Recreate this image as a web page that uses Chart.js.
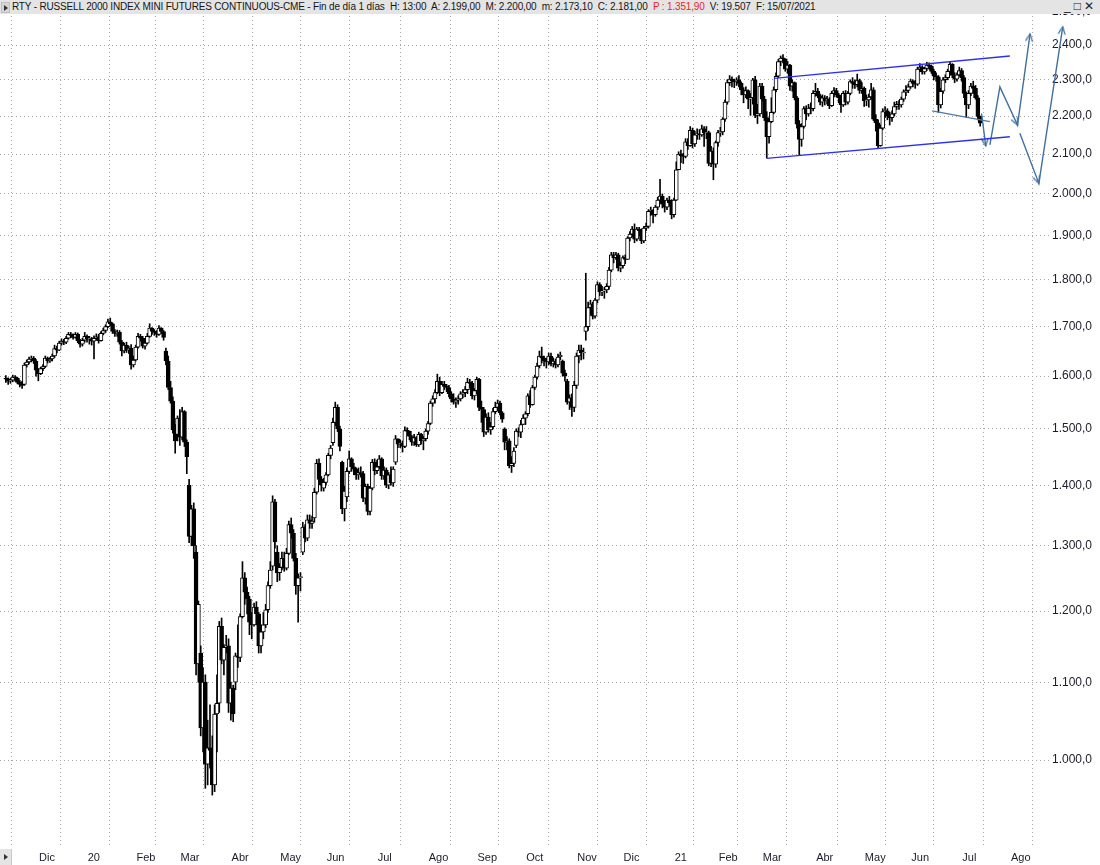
<!DOCTYPE html>
<html>
<head>
<meta charset="utf-8">
<script src="https://cdn.jsdelivr.net/npm/chart.js@4.4.0/dist/chart.umd.min.js"></script>
<style>
  html, body { margin: 0; padding: 0; background: #fff; }
  #wrap { position: relative; width: 1100px; height: 865px; overflow: hidden; font-family: "Liberation Sans", Arial, sans-serif; }
  #chart { position: absolute; left: 0; top: 0; }
  #bar { position: absolute; left: 0; top: 0; width: 1100px; height: 14px; background: #e4e4e4; font-size: 10px; line-height: 14px; color: #151515; white-space: pre; letter-spacing: -0.17px; }
  #bar .ico { position: absolute; left: 1px; top: 2px; width: 7px; height: 9px; background: #d6d6d6; border: 1px solid #c0c0c0; }
  #bar .ico:after { content: ""; position: absolute; left: 2px; top: 2px; border-left: 4px solid #333; border-top: 3px solid transparent; border-bottom: 3px solid transparent; }
  #bar .txt { position: absolute; left: 12px; top: 0; }
  #bar .red { color: #e8262a; }
  #bar .btns { position: absolute; right: 3px; top: -1px; font-size: 12px; letter-spacing: 3px; color: #222; }
  #corner { position: absolute; left: 0; top: 849px; width: 11px; height: 16px; background: #e4e4e4; border-right: 1px solid #c8c8c8; }
  #corner:after { content: ""; position: absolute; left: 4px; top: 5px; border-left: 4px solid #333; border-top: 3px solid transparent; border-bottom: 3px solid transparent; }
</style>
</head>
<body>
<div id="wrap">
  <canvas id="chart" width="1100" height="865"></canvas>
  <div id="bar"><span class="ico"></span><span class="txt">RTY - RUSSELL 2000 INDEX MINI FUTURES CONTINUOUS-CME - Fin de día 1 días  H: 13:00  A: 2.199,00  M: 2.200,00  m: 2.173,10  C: 2.181,00  <span class="red">P : 1.351,90</span>  V: 19.507  F: 15/07/2021</span><span class="btns">_□✕</span></div>
  <div id="corner"></div>
</div>
<script>
// daily bars, one line per month (Nov 2019 .. Jul 2021)
const opens = [
  1596,1594,1590,1592,1598,1596,1588,1584,1584,1622,1628,1634,1636,
  1630,1612,1605,1615,1619,1636,1630,1634,1640,1655,1652,1666,1670,1668,1676,1684,1682,1678,1684,1671,1664,
  1672,1680,1674,1675,1670,1676,1679,1671,1686,1692,1700,1710,1706,1690,1686,1688,1668,1650,1662,1652,1656,
  1622,1632,1658,1680,1676,1660,1666,1680,1697,1690,1688,1684,1697,1690,1650,1630,1578,1552,1498,
  1490,1520,1485,1532,1476,1400,1315,1360,1290,1125,1140,1040,1100,995,1015,1012,970,1058,1072,1178,1130,1148,
  1150,1072,1092,1100,1136,1134,1192,1250,1228,1218,1184,1180,1206,1196,1150,1170,1180,1202,1238,1268,1372,
  1290,1258,1266,1280,1265,1288,1334,1320,1280,1238,1250,1290,1330,1312,1342,1336,1345,1388,1438,1410,
  1395,1405,1418,1452,1475,1512,1540,1500,1440,1360,1380,1424,1446,1432,1428,1418,1422,1420,1378,1398,1356,1395,
  1440,1425,1432,1446,1416,1426,1400,1418,1404,1440,1482,1472,1474,1468,1497,1496,1486,1476,1484,1471,1490,1478,
  1482,1496,1510,1548,1556,1568,1590,1568,1584,1580,1578,1566,1556,1550,1554,1556,1566,1568,1574,1588,1586,
  1562,1572,1594,1540,1536,1494,1522,1498,1504,1532,1540,1548,1530,1500,1476,1478,1434,1438,1470,1496,1494,
  1508,1520,1528,1562,1545,1578,1598,1620,1640,1636,1630,1628,1640,1624,1630,1622,1638,1630,1606,1590,1550,1558,
  1540,1582,1640,1652,1646,1690,1700,1740,1748,1722,1756,1790,1774,1776,1778,1786,1822,1856,1850,1856,
  1826,1832,1850,1846,1895,1904,1916,1892,1916,1912,1888,1918,1922,1958,1960,1950,1968,1985,1995,1975,1968,1985,
  1978,1950,1985,2060,2100,2096,2094,2132,2122,2162,2126,2150,2152,2150,2166,2155,2156,2076,2108,
  2074,2130,2156,2158,2192,2238,2292,2302,2296,2294,2300,2290,2272,2258,2270,2246,2250,2300,2202,
  2206,2282,2246,2196,2145,2185,2210,2272,2310,2352,2362,2360,2330,2342,2282,2292,2250,2178,2138,2172,2220,2206,2222,
  2220,2262,2268,2255,2238,2250,2242,2246,2228,2262,2270,2258,2250,2230,2262,2238,2262,2295,2290,2286,2298,
  2270,2276,2242,2244,2252,2272,2192,2182,2122,2168,2212,2214,2200,2196,2206,2226,2232,2230,2246,2266,
  2270,2280,2296,2290,2288,2330,2336,2322,2332,2342,2338,2324,2310,2308,2230,2268,2300,2306,2324,2344,2312,2302,
  2314,2326,2306,2262,2230,2262,2282,2276,2250,2199
];
const highs = [
  1601,1597,1596,1602,1601,1598,1592,1590,1626,1632,1638,1640,1639,
  1633,1615,1618,1623,1640,1638,1637,1644,1662,1660,1670,1675,1674,1680,1688,1688,1685,1688,1687,1674,1676,
  1688,1683,1680,1678,1681,1685,1684,1690,1697,1704,1716,1718,1708,1694,1693,1692,1672,1666,1668,1660,1663,
  1640,1662,1686,1684,1680,1670,1686,1706,1698,1694,1692,1702,1698,1692,1656,1640,1590,1560,1508,
  1524,1536,1540,1534,1480,1410,1366,1370,1300,1215,1150,1120,1110,1050,1070,1030,1070,1110,1185,1190,1152,1165,
  1160,1100,1096,1140,1180,1196,1275,1258,1236,1222,1198,1212,1214,1198,1180,1198,1210,1244,1275,1382,1376,
  1300,1272,1290,1290,1296,1340,1345,1326,1288,1256,1258,1338,1334,1350,1350,1348,1395,1445,1446,1415,
  1412,1422,1456,1470,1520,1550,1545,1505,1442,1398,1430,1460,1448,1438,1430,1430,1432,1424,1402,1402,1398,1445,
  1446,1444,1452,1448,1432,1430,1422,1432,1432,1488,1482,1480,1478,1504,1502,1496,1488,1490,1486,1494,1492,1486,
  1500,1514,1552,1562,1574,1604,1598,1590,1590,1584,1582,1570,1566,1558,1562,1570,1574,1580,1596,1594,1590,
  1576,1598,1596,1552,1540,1528,1530,1512,1538,1550,1554,1552,1532,1502,1486,1482,1450,1466,1500,1502,1516,
  1526,1532,1566,1572,1582,1602,1626,1650,1658,1640,1636,1646,1646,1636,1634,1644,1648,1632,1612,1594,1564,1566,
  1590,1646,1662,1662,1656,1815,1752,1756,1752,1760,1796,1794,1786,1784,1792,1828,1862,1862,1862,1860,
  1840,1854,1856,1898,1910,1922,1928,1920,1920,1916,1922,1930,1962,1968,1962,1972,1992,2036,2000,1984,1990,1994,
  1986,1990,2080,2106,2110,2102,2140,2140,2172,2168,2160,2166,2164,2176,2172,2172,2160,2120,2116,
  2134,2162,2170,2196,2244,2300,2312,2308,2302,2306,2312,2294,2278,2280,2272,2262,2304,2310,2232,
  2290,2290,2254,2212,2192,2250,2280,2320,2358,2368,2372,2360,2352,2344,2300,2294,2254,2188,2180,2226,2228,2232,2236,
  2270,2290,2276,2260,2258,2256,2254,2250,2268,2278,2276,2262,2254,2268,2270,2268,2300,2306,2300,2316,2302,
  2292,2280,2258,2260,2290,2278,2204,2190,2176,2220,2226,2220,2210,2214,2238,2240,2242,2252,2272,2284,
  2288,2302,2300,2298,2336,2346,2340,2336,2350,2348,2342,2330,2320,2312,2276,2306,2314,2330,2352,2346,2320,2320,
  2336,2332,2312,2266,2270,2290,2296,2284,2256,2200
];
const lows = [
  1588,1584,1586,1589,1590,1585,1579,1576,1582,1618,1624,1628,1625,
  1600,1591,1603,1611,1617,1626,1627,1630,1637,1646,1651,1662,1663,1665,1674,1677,1674,1676,1667,1658,1660,
  1668,1668,1664,1662,1634,1672,1666,1670,1683,1688,1698,1702,1686,1680,1680,1664,1640,1646,1647,1645,1614,
  1618,1630,1656,1670,1656,1654,1664,1678,1684,1682,1678,1682,1686,1672,1622,1574,1548,1492,1456,
  1478,1470,1480,1468,1420,1305,1300,1280,1110,1100,1030,1010,966,970,990,958,962,1010,1060,1125,1110,1140,
  1060,1050,1048,1090,1120,1128,1190,1210,1196,1166,1160,1178,1180,1140,1140,1160,1176,1198,1234,1262,1296,
  1244,1246,1262,1260,1262,1286,1312,1276,1225,1184,1230,1286,1306,1308,1328,1328,1338,1385,1402,1390,
  1390,1400,1416,1446,1470,1506,1495,1460,1352,1340,1372,1420,1424,1418,1410,1410,1414,1372,1368,1350,1350,1392,
  1418,1420,1428,1410,1410,1396,1394,1400,1398,1436,1466,1466,1458,1466,1488,1480,1470,1470,1468,1468,1472,1462,
  1478,1490,1508,1542,1548,1566,1562,1566,1574,1570,1560,1550,1546,1540,1546,1552,1558,1560,1566,1578,1556,
  1554,1566,1534,1512,1486,1490,1494,1490,1500,1528,1534,1526,1512,1462,1462,1430,1422,1432,1466,1486,1484,
  1508,1508,1524,1540,1544,1574,1594,1616,1626,1620,1616,1622,1620,1618,1616,1618,1632,1600,1590,1546,1536,1523,
  1532,1576,1626,1632,1634,1672,1692,1724,1716,1718,1750,1766,1766,1760,1772,1780,1818,1838,1846,1820,
  1818,1826,1836,1846,1888,1898,1884,1888,1900,1882,1884,1912,1918,1948,1930,1946,1962,1980,1966,1956,1962,1970,
  1940,1944,1984,2060,2078,2076,2090,2112,2120,2116,2120,2138,2138,2146,2120,2140,2070,2068,2035,
  2066,2120,2146,2150,2186,2232,2284,2280,2278,2284,2280,2258,2236,2250,2220,2202,2232,2196,2180,
  2200,2240,2188,2090,2128,2182,2206,2266,2306,2340,2348,2324,2318,2270,2268,2244,2168,2098,2120,2168,2190,2200,2206,
  2214,2254,2250,2230,2226,2230,2232,2220,2226,2252,2252,2236,2210,2226,2230,2232,2258,2276,2276,2280,2262,
  2262,2226,2228,2224,2246,2188,2160,2114,2120,2164,2196,2190,2176,2186,2200,2218,2218,2224,2240,2256,
  2264,2276,2280,2276,2284,2324,2316,2316,2326,2330,2318,2300,2296,2210,2222,2262,2292,2300,2320,2306,2292,2296,
  2310,2296,2250,2196,2220,2256,2262,2246,2190,2173.1
];
const closes = [
  1594,1590,1592,1598,1596,1588,1584,1582,1622,1628,1634,1636,1630,
  1612,1605,1615,1619,1636,1630,1634,1640,1655,1652,1666,1670,1668,1676,1684,1682,1678,1684,1671,1664,1672,
  1680,1674,1675,1670,1676,1679,1671,1686,1692,1700,1710,1706,1690,1686,1688,1668,1650,1662,1652,1656,1622,
  1632,1658,1680,1676,1660,1666,1680,1697,1690,1688,1684,1697,1690,1678,1630,1578,1552,1498,1478,
  1520,1485,1532,1476,1450,1315,1360,1300,1125,1210,1040,1100,995,1015,1012,970,1058,1072,1178,1130,1148,1150,
  1072,1092,1058,1136,1134,1192,1250,1228,1218,1184,1180,1206,1196,1150,1170,1180,1202,1238,1262,1372,1306,
  1258,1266,1280,1265,1288,1334,1320,1280,1238,1250,1252,1330,1312,1342,1336,1340,1388,1438,1410,1400,
  1405,1418,1452,1465,1512,1540,1500,1468,1360,1390,1424,1446,1432,1428,1418,1422,1420,1378,1398,1356,1395,1440,
  1425,1432,1446,1416,1426,1400,1418,1404,1428,1482,1472,1474,1468,1497,1496,1486,1476,1484,1471,1490,1478,1482,
  1496,1510,1548,1556,1568,1590,1568,1584,1580,1578,1566,1556,1550,1554,1556,1566,1568,1574,1588,1586,1562,
  1572,1594,1540,1536,1494,1522,1498,1504,1532,1540,1548,1530,1518,1476,1478,1434,1438,1460,1496,1494,1508,
  1520,1528,1562,1545,1578,1598,1620,1640,1636,1630,1628,1640,1624,1630,1622,1638,1642,1606,1600,1550,1558,1540,
  1582,1640,1652,1646,1648,1700,1740,1748,1722,1756,1790,1774,1776,1778,1786,1822,1856,1850,1856,1826,
  1832,1850,1846,1895,1904,1916,1892,1916,1912,1888,1918,1922,1958,1960,1950,1968,1985,1995,1975,1968,1985,1978,
  1950,1985,2060,2100,2096,2094,2132,2122,2162,2126,2150,2152,2150,2166,2155,2156,2076,2108,2074,
  2130,2156,2158,2192,2238,2292,2302,2296,2294,2300,2290,2272,2258,2270,2246,2250,2300,2202,2206,
  2282,2246,2196,2145,2185,2210,2272,2310,2352,2362,2360,2330,2342,2282,2292,2250,2178,2138,2172,2220,2206,2222,2220,
  2262,2268,2255,2238,2250,2242,2246,2228,2262,2270,2258,2250,2230,2262,2238,2262,2295,2290,2286,2298,2270,
  2276,2242,2244,2252,2272,2192,2182,2122,2168,2212,2214,2200,2196,2206,2226,2232,2230,2246,2266,2270,
  2280,2296,2290,2288,2330,2336,2322,2332,2342,2338,2324,2310,2308,2230,2268,2300,2306,2324,2344,2312,2302,2314,
  2326,2306,2262,2230,2262,2282,2276,2250,2199,2181
];

// first trading day of each month (bar index) and its label
const monthTicks = [13, 34, 55, 74, 96, 117, 137, 159, 181, 202, 223, 245, 265, 287, 306, 325, 348, 369, 389, 411, 432];
const monthLabels = ['Dic', '20', 'Feb', 'Mar', 'Abr', 'May', 'Jun', 'Jul', 'Ago', 'Sep', 'Oct', 'Nov', 'Dic', '21', 'Feb', 'Mar', 'Abr', 'May', 'Jun', 'Jul', 'Ago'];
const priceTicks = [1000, 1100, 1200, 1300, 1400, 1500, 1600, 1700, 1800, 1900, 2000, 2100, 2200, 2300, 2400, 2500];

// hand drawn lines (bar index, price)
const channelTop = [{x: 331.2, y: 2304}, {x: 432.8, y: 2368}];
const channelBottom = [{x: 327.9, y: 2089}, {x: 432.8, y: 2145}];
const shortLine = [{x: 399.3, y: 2214}, {x: 424.2, y: 2185}];
const arrowA = [{x: 420.6, y: 2207}, {x: 422.4, y: 2121}];
const arrowB = [{x: 424.2, y: 2124}, {x: 428.5, y: 2280}, {x: 436.1, y: 2176}, {x: 441.5, y: 2433}];
const arrowC = [{x: 437.1, y: 2154}, {x: 445.3, y: 2026}, {x: 455.6, y: 2454}];

Chart.defaults.font.family = "'Liberation Sans', Arial, sans-serif";

const ARROW = '#41709f';

function arrowHead(color) {
    const c = document.createElement('canvas');
    c.width = 18; c.height = 18;
    const g = c.getContext('2d');
    g.strokeStyle = color;
    g.lineWidth = 1.3;
    g.beginPath();
    g.moveTo(5.5, 16.5);
    g.lineTo(9, 9);
    g.lineTo(12.5, 16.5);
    g.stroke();
    return c;
}
const head = arrowHead(ARROW);

function arrowAngle(ctx) {
    const pts = ctx.dataset.data, i = ctx.dataIndex;
    if (!i) return 0;
    const sx = ctx.chart.scales.x, sy = ctx.chart.scales.y;
    const dx = sx.getPixelForValue(pts[i].x) - sx.getPixelForValue(pts[i - 1].x);
    const dy = sy.getPixelForValue(pts[i].y) - sy.getPixelForValue(pts[i - 1].y);
    return Math.atan2(dx, -dy) * 180 / Math.PI;
}

function arrowSet(points, heads) {
    return {
        type: 'line', data: points, borderColor: ARROW, borderWidth: 1.4,
        pointStyle: head, pointRadius: heads, pointRotation: arrowAngle,
        clip: false, order: 0
    };
}

function fmtPrice(v) {
    return String(v).replace(/\B(?=(\d{3})+(?!\d))/g, '.') + ',0';
}

const gridOpts = { color: '#a6a6a6', lineWidth: 1, drawTicks: false };
const borderOpts = { display: false, dash: [1, 3] };

new Chart(document.getElementById('chart'), {
    type: 'bar',
    data: {
        datasets: [
            { type: 'line', data: channelTop, borderColor: '#2f2ff0', borderWidth: 1.3, pointRadius: 0, clip: false, order: 0 },
            { type: 'line', data: channelBottom, borderColor: '#2f2ff0', borderWidth: 1.3, pointRadius: 0, clip: false, order: 0 },
            { type: 'line', data: shortLine, borderColor: '#4f7aaa', borderWidth: 1.3, pointRadius: 0, clip: false, order: 0 },
            arrowSet(arrowA, [0, 16]),
            arrowSet(arrowB, [0, 0, 16, 16]),
            arrowSet(arrowC, [0, 16, 16]),
            {
                data: opens.map((o, i) => ({x: i, y: [o, closes[i]]})),
                backgroundColor: ctx => closes[ctx.dataIndex] >= opens[ctx.dataIndex] ? '#ffffff' : '#000000',
                borderColor: '#000000', borderWidth: 1, borderSkipped: false,
                barThickness: 4, minBarLength: 1, grouped: false, order: 5
            },
            {
                data: highs.map((h, i) => ({x: i, y: [lows[i], h]})),
                backgroundColor: '#000000', barThickness: 1, grouped: false, order: 6
            }
        ]
    },
    options: {
        responsive: false,
        animation: false,
        devicePixelRatio: 1,
        events: [],
        layout: { padding: 0, autoPadding: false },
        plugins: { legend: { display: false }, tooltip: { enabled: false } },
        scales: {
            x: {
                type: 'linear', min: -2.52, max: 450.1, offset: false,
                afterBuildTicks: s => { s.ticks = monthTicks.map(v => ({value: v})); },
                afterFit: s => { s.height = 17; s.paddingLeft = 0; s.paddingRight = 0; },
                ticks: {
                    autoSkip: false, maxRotation: 0, align: 'start', labelOffset: 3, padding: 3,
                    font: { size: 11 }, color: '#1b1b2b',
                    callback: v => monthLabels[monthTicks.indexOf(v)]
                },
                grid: gridOpts,
                border: borderOpts
            },
            y: {
                type: 'logarithmic', position: 'right', min: 897.9, max: 2536,
                afterBuildTicks: s => { s.ticks = priceTicks.map(v => ({value: v})); },
                afterFit: s => { s.width = 50; s.paddingTop = 0; s.paddingBottom = 0; },
                ticks: { padding: 2, font: { size: 12 }, color: '#1b1b2b', callback: v => fmtPrice(v) },
                grid: gridOpts,
                border: borderOpts
            }
        }
    }
});
</script>
</body>
</html>
